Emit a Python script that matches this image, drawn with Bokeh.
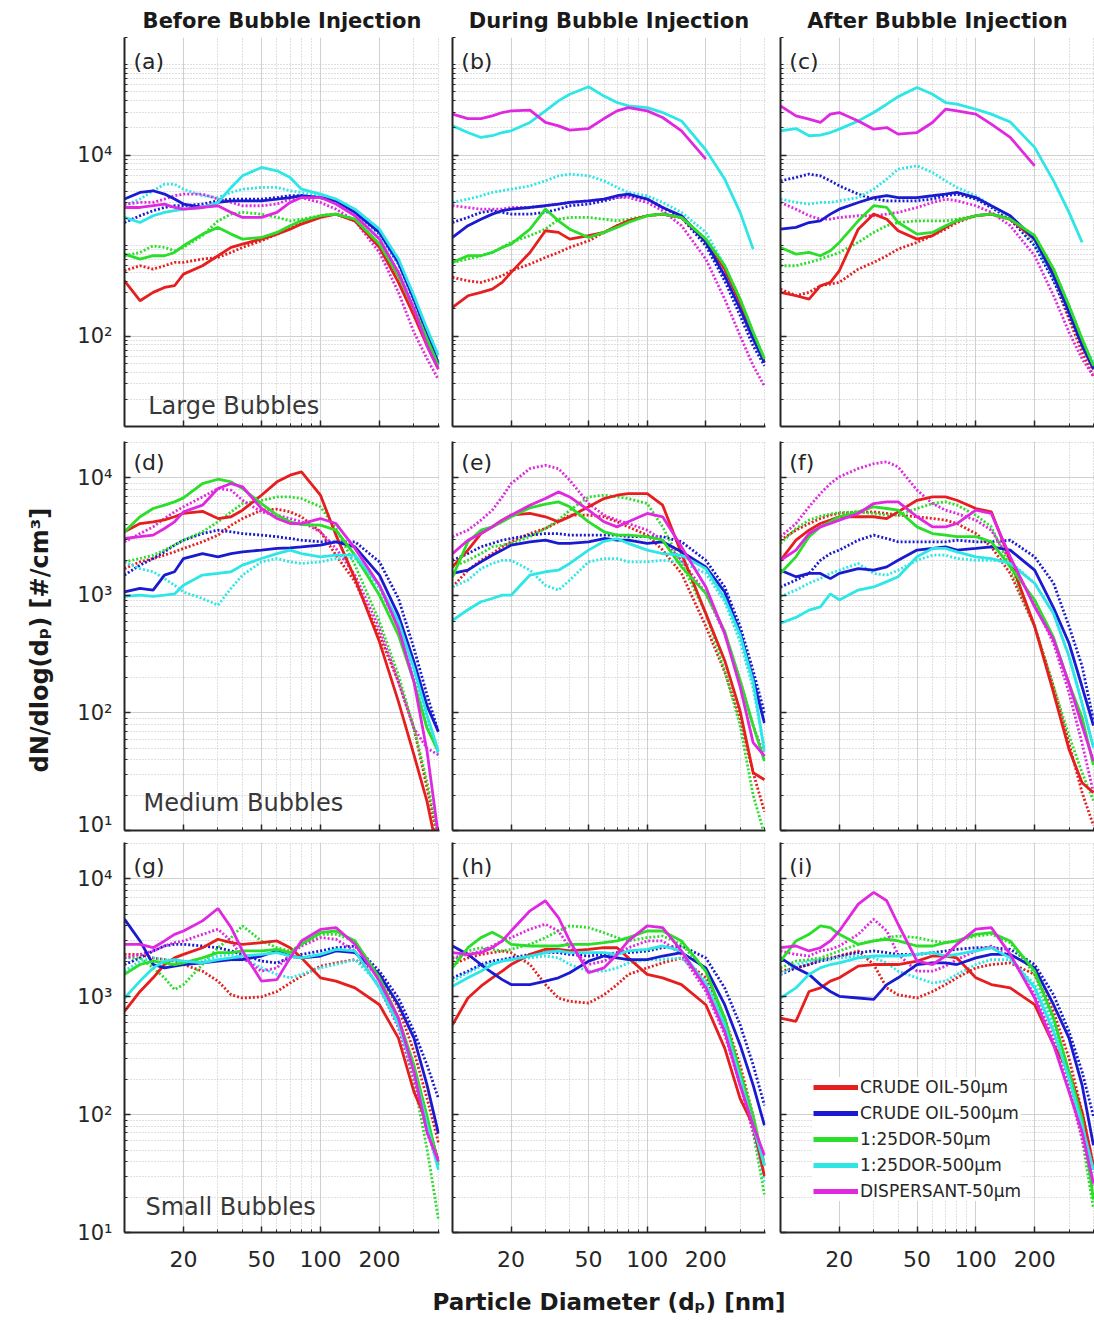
import numpy as np
from bokeh.plotting import figure
from bokeh.layouts import column, row
from bokeh.models import (FixedTicker, Label, Legend, LegendItem, Range1d,
                          CustomJSTickFormatter)
from bokeh.embed import file_html
from bokeh.resources import INLINE

# ---------------- data ----------------
DIAMETER_NM = [10, 12, 14, 16, 18, 20, 25, 30, 35, 40, 50, 60, 70, 80, 100, 120, 150, 200, 250, 300, 350, 400]

SERIES_NAMES = ["CRUDE OIL-50\u03bcm", "CRUDE OIL-500\u03bcm", "1:25DOR-50\u03bcm",
                "1:25DOR-500\u03bcm", "DISPERSANT-50\u03bcm"]
COL_TITLES = ["Before Bubble Injection", "During Bubble Injection", "After Bubble Injection"]
ROW_LABELS = ["Large Bubbles", "Medium Bubbles", "Small Bubbles"]
PANEL_TAGS = [["(a)", "(b)", "(c)"], ["(d)", "(e)", "(f)"], ["(g)", "(h)", "(i)"]]
X_TICKS = [20, 50, 100, 200]
Y_TITLE = "dN/dlog(d\u209a)  [#/cm\u00b3]"
X_TITLE = "Particle Diameter (d\u209a) [nm]"

# (a) large bubbles, before
a_crude50 = [408, 246, 304, 345, 360, 484, 599, 773, 955, 1040, 1180, 1340, 1520, 1730, 2050, 2230, 1880, 955, 392, 168, 78, 43]
a_crude50_dot = [527, 599, 550, 599, 652, 652, 710, 740, 840, 955, 1130, 1340, 1590, 1780, 2140, 2230, 1880, 995, 464, 199, 93, 47]
a_crude500 = [3270, 3870, 4040, 3710, 3270, 2880, 2640, 3000, 3130, 3130, 3130, 3270, 3400, 3560, 3400, 3130, 2330, 1400, 652, 256, 110, 49]
a_crude500_dot = [1800, 2140, 2430, 2640, 2760, 2760, 2880, 3130, 3270, 3270, 3270, 3400, 3560, 3560, 3400, 3130, 2330, 1340, 625, 246, 105, 47]
a_dor50 = [805, 710, 773, 773, 840, 995, 1340, 1590, 1340, 1180, 1230, 1400, 1660, 1880, 2140, 2230, 1960, 1040, 464, 199, 93, 47]
a_dor50_dot = [773, 840, 995, 955, 877, 955, 1290, 1880, 2230, 2330, 2230, 2050, 1880, 1960, 2140, 2230, 1960, 1040, 464, 199, 93, 51]
a_dor500 = [2050, 1800, 2140, 2330, 2430, 2530, 2640, 3000, 4400, 5910, 7310, 6710, 5670, 4210, 3710, 3270, 2530, 1520, 710, 279, 120, 61]
a_dor500_dot = [2760, 3270, 4040, 4780, 4780, 4210, 3560, 3400, 3870, 4210, 4400, 4400, 4040, 3870, 3560, 3130, 2330, 1340, 625, 246, 110, 53]
a_disp50 = [2640, 2640, 2760, 2880, 2640, 2530, 2640, 2760, 2330, 2050, 2050, 2330, 3000, 3400, 3400, 2880, 2140, 1180, 506, 199, 78, 43]
a_disp50_dot = [2880, 3000, 3000, 3270, 3560, 3710, 3710, 3270, 3000, 2760, 2760, 2880, 3270, 3400, 3000, 2530, 1880, 840, 304, 110, 56, 33]

# (b) large bubbles, during
b_crude50 = [208, 279, 304, 330, 392, 506, 840, 1460, 1400, 1180, 1290, 1400, 1660, 1880, 2140, 2230, 2050, 1130, 550, 236, 101, 51]
b_crude50_dot = [445, 408, 392, 427, 464, 527, 625, 740, 840, 955, 1130, 1400, 1660, 1880, 2140, 2230, 2050, 1130, 550, 236, 101, 51]
b_crude500 = [1230, 1660, 1960, 2230, 2430, 2530, 2640, 2760, 2880, 3000, 3130, 3270, 3560, 3710, 3270, 2640, 2140, 1085, 464, 199, 93, 51]
b_crude500_dot = [1800, 2050, 2330, 2430, 2330, 2230, 2230, 2330, 2530, 2760, 2880, 3130, 3400, 3560, 3270, 2640, 2050, 995, 408, 168, 78, 47]
b_dor50 = [652, 773, 773, 840, 955, 1040, 1520, 2530, 1880, 1520, 1230, 1400, 1590, 1800, 2140, 2230, 2050, 1180, 599, 256, 110, 56]
b_dor50_dot = [652, 710, 773, 840, 955, 1085, 1290, 1520, 1960, 2050, 2050, 1960, 1880, 1960, 2140, 2230, 2050, 1180, 599, 256, 110, 56]
b_dor500 = [21100, 17800, 15700, 16400, 17800, 18600, 23000, 30900, 39800, 47200, 57000, 45000, 38200, 35100, 33600, 29600, 23900, 11400, 5440, 2330, 915, None]
b_dor500_dot = [3000, 3270, 3560, 3870, 4040, 4210, 4580, 5200, 5910, 6170, 5910, 5200, 4400, 3870, 3560, 3000, 2330, 1400, 599, 236, 101, 56]
b_disp50 = [28400, 25400, 25400, 27200, 29600, 30900, 31500, 23000, 21100, 18900, 19700, 25400, 30900, 33600, 30900, 26100, 18600, 9030, None, None, None, None]
b_disp50_dot = [2760, 2640, 2530, 2530, 2530, 2640, 2640, 2760, 2880, 3000, 3130, 3270, 3400, 3400, 3000, 2430, 1660, 710, 256, 101, 47, 28]

# (c) large bubbles, after
c_crude50 = [304, 279, 256, 360, 392, 527, 1520, 2230, 1960, 1460, 1180, 1290, 1590, 1880, 2140, 2230, 1960, 1180, 506, 199, 85, 43]
c_crude50_dot = [330, 279, 304, 360, 376, 392, 550, 652, 773, 915, 1085, 1290, 1520, 1800, 2140, 2230, 1960, 1085, 427, 154, 66, 36]
c_crude500 = [1520, 1590, 1800, 1880, 2230, 2530, 3000, 3400, 3560, 3400, 3400, 3560, 3710, 3870, 3400, 2760, 2140, 1180, 464, 183, 78, 43]
c_crude500_dot = [5200, 5670, 6170, 5910, 5200, 4580, 3710, 3270, 3130, 3130, 3130, 3270, 3560, 3710, 3270, 2640, 1960, 995, 408, 168, 78, 47]
c_dor50 = [955, 805, 840, 773, 877, 1085, 1880, 2760, 2640, 1800, 1340, 1400, 1660, 1880, 2140, 2230, 1960, 1290, 550, 216, 93, 47]
c_dor50_dot = [599, 599, 652, 710, 773, 840, 1085, 1400, 1660, 1800, 1880, 1880, 1880, 1960, 2140, 2230, 1960, 1290, 550, 216, 93, 47]
c_dor500 = [18600, 19700, 16400, 16700, 17800, 19400, 23900, 29600, 36600, 44400, 56000, 47200, 38200, 36600, 32200, 28400, 23300, 12200, 5200, 2330, 1085, None]
c_dor500_dot = [3270, 3000, 2880, 3000, 3000, 3130, 3400, 4210, 5440, 7000, 7630, 6430, 5200, 4400, 3560, 2760, 2050, 1085, 445, 183, 85, 51]
c_disp50 = [35100, 27200, 25000, 23000, 28400, 29600, 23900, 19400, 20200, 17100, 17800, 23000, 32200, 30900, 28400, 22000, 15700, 7630, None, None, None, None]
c_disp50_dot = [3000, 2530, 2140, 1960, 1960, 2050, 2140, 2140, 2230, 2330, 2640, 3000, 3270, 3130, 2760, 2330, 1660, 773, 279, 110, 56, 36]

# (d) medium bubbles, before
d_crude50 = [3480, 4090, 4230, 4400, 4670, 5000, 5200, 4510, 4670, 5310, 7120, 9250, 10540, 11250, 7120, 3260, 1390, 403, 125, 44, 17.6, 6]
d_crude50_dot = [1690, 1930, 2060, 2200, 2350, 2510, 2860, 3260, 3960, 4510, 5310, 5420, 5140, 4670, 3480, 2200, 1310, 460, 184, 74, 23, 8]
d_crude500 = [1070, 1150, 1110, 1490, 1590, 2060, 2270, 2130, 2270, 2350, 2430, 2510, 2540, 2590, 2680, 2860, 2590, 1490, 680, 273, 115, 69]
d_crude500_dot = [1490, 1810, 2060, 2350, 2680, 2950, 3360, 3590, 3480, 3360, 3260, 3160, 3050, 2950, 2860, 2860, 2860, 1930, 942, 354, 142, 69]
d_dor50 = [3480, 4670, 5490, 5860, 6250, 6760, 8950, 9740, 9250, 8120, 6050, 4820, 4230, 4010, 3960, 3590, 2200, 1005, 460, 184, 74, 47]
d_dor50_dot = [1930, 2060, 2200, 2430, 2680, 2950, 3480, 4230, 5140, 6050, 6420, 6890, 6890, 6670, 5680, 3710, 1810, 597, 210, 74, 26, 8.6]
d_dor500 = [980, 1005, 980, 1005, 1030, 1220, 1490, 1540, 1590, 1810, 2060, 2270, 2430, 2270, 2130, 2200, 2200, 1220, 597, 239, 96, 47]
d_dor500_dot = [1930, 1690, 1590, 1390, 1220, 1070, 942, 827, 1150, 1490, 1930, 2060, 1930, 1870, 1930, 2060, 2060, 1150, 524, 210, 84, 44]
d_disp50 = [3050, 3160, 3260, 3710, 4230, 5140, 5860, 8120, 8950, 8400, 5490, 4510, 4090, 4090, 4510, 4090, 2510, 1220, 524, 184, 47, 9]
d_disp50_dot = [2860, 3360, 3830, 4510, 5140, 5680, 6890, 8120, 7860, 6450, 5140, 4820, 4510, 4230, 3480, 2510, 1490, 524, 184, 74, 50, 44]

# (e) medium bubbles, during
e_crude50 = [1750, 2430, 3360, 3830, 4370, 4820, 4980, 4670, 4230, 4670, 5680, 6670, 7120, 7360, 7360, 5860, 2270, 700, 280, 104, 31, 27]
e_crude50_dot = [1180, 1640, 1990, 2270, 2590, 2860, 3360, 3710, 4230, 4820, 4820, 4670, 4230, 3830, 3260, 2430, 1540, 546, 224, 89, 31, 14.5]
e_crude500 = [1540, 1640, 1930, 2200, 2430, 2680, 2860, 2950, 2770, 2770, 2860, 3050, 2950, 2950, 2770, 2860, 2350, 1750, 1070, 480, 195, 82]
e_crude500_dot = [1990, 2270, 2590, 2770, 2950, 3050, 3260, 3360, 3360, 3260, 3260, 3260, 3260, 3160, 3160, 3160, 2860, 1990, 1180, 546, 229, 100]
e_dor50 = [1440, 2860, 3590, 3830, 4230, 4670, 5570, 5970, 6250, 5680, 4230, 3480, 3260, 3260, 3160, 2950, 1750, 1040, 495, 189, 78, 39]
e_dor50_dot = [1750, 1990, 2270, 2590, 2680, 2770, 3160, 3710, 4370, 5310, 6890, 7120, 6890, 6670, 6050, 3830, 1870, 700, 229, 78, 20, 9.3]
e_dor500 = [615, 755, 883, 942, 1005, 1005, 1490, 1590, 1640, 1870, 2430, 2890, 3050, 2770, 2430, 2270, 2200, 1690, 942, 460, 184, 47]
e_dor500_dot = [1180, 1350, 1690, 1870, 1990, 1990, 1640, 1220, 1110, 1350, 1930, 2060, 2060, 1930, 1930, 1990, 1930, 1540, 883, 403, 162, 50]
e_disp50 = [2270, 2950, 3360, 3830, 4370, 4820, 5860, 6670, 7600, 6890, 5310, 4230, 3830, 4230, 4980, 4670, 2590, 1180, 473, 167, 56, 43]
e_disp50_dot = [3160, 3590, 4370, 5310, 6890, 8950, 12000, 12800, 12000, 9560, 6050, 4820, 4370, 4090, 3590, 2950, 1990, 1040, 473, 189, 78, 43]

# (f) medium bubbles, after
f_crude50 = [1990, 2950, 3590, 4090, 4370, 4670, 4670, 4670, 4510, 5140, 6450, 6890, 6890, 6450, 5490, 5140, 1990, 546, 148, 49, 25.5, 21]
f_crude50_dot = [2950, 3590, 4090, 4510, 4820, 4980, 5140, 5140, 4980, 4820, 4670, 4510, 4370, 4090, 3360, 2590, 1540, 546, 167, 55, 21, 11]
f_crude500 = [1640, 1440, 1540, 1540, 1390, 1540, 1690, 1640, 1750, 1990, 2430, 2510, 2590, 2430, 2510, 2590, 2430, 1640, 785, 392, 167, 78]
f_crude500_dot = [1180, 1350, 1540, 1990, 2270, 2430, 2950, 3260, 3050, 2860, 2860, 2860, 2860, 2950, 2860, 2860, 2950, 2130, 1270, 546, 250, 87]
f_dor50 = [1540, 2130, 3160, 3830, 4230, 4670, 5140, 5680, 5490, 5310, 3830, 3360, 3260, 3160, 3160, 2860, 1750, 915, 440, 177, 91, 36]
f_dor50_dot = [2770, 3710, 4370, 4720, 4920, 5070, 5140, 4980, 4820, 4820, 5490, 6050, 6250, 5860, 4820, 3830, 1750, 546, 167, 64, 31, 18]
f_dor500 = [580, 650, 750, 800, 1030, 915, 1110, 1180, 1310, 1440, 2130, 2510, 2510, 2350, 2130, 2060, 1870, 1270, 700, 303, 120, 51]
f_dor500_dot = [980, 1110, 1270, 1390, 1540, 1640, 1870, 1540, 1490, 1640, 1990, 2200, 2200, 2060, 1990, 1990, 1930, 1270, 700, 303, 120, 51]
f_disp50 = [1990, 2430, 3360, 3830, 4090, 4370, 4980, 6050, 6250, 6250, 4670, 3830, 3830, 4090, 5310, 4980, 2130, 800, 420, 177, 78, 39]
f_disp50_dot = [3160, 4090, 5680, 7360, 8950, 10200, 12000, 13200, 13700, 12400, 7860, 6050, 5310, 4980, 4370, 3590, 1990, 850, 390, 148, 55, 21]

# (g) small bubbles, before
g_crude50 = [752, 1110, 1450, 1880, 2140, 2290, 2610, 3080, 2880, 2790, 2880, 2980, 2610, 2140, 1450, 1360, 1190, 857, 446, 156, 86, 40]
g_crude50_dot = [2290, 2290, 2140, 2070, 2010, 1880, 1650, 1360, 1040, 977, 1000, 1110, 1310, 1500, 1820, 1940, 2070, 1550, 803, 343, 137, 58]
g_crude500 = [4560, 2980, 1880, 1760, 1820, 1880, 1940, 2010, 2070, 2070, 2220, 2450, 2220, 2140, 2220, 2450, 2370, 1550, 857, 446, 178, 69]
g_crude500_dot = [1880, 2140, 2450, 2700, 2790, 2790, 2700, 2610, 2450, 2290, 2010, 1940, 2140, 2290, 2450, 2610, 2700, 1650, 977, 508, 264, 137]
g_dor50 = [1550, 1880, 2010, 1940, 1880, 1940, 2140, 2370, 2370, 2450, 2450, 2530, 2370, 2790, 3500, 3620, 2980, 1450, 660, 264, 97, 37]
g_dor50_dot = [2140, 2140, 1760, 1450, 1150, 1270, 1880, 2610, 3180, 4000, 2980, 2610, 2450, 2790, 3390, 3390, 2980, 1360, 579, 190, 51, 13]
g_dor500 = [977, 1360, 1760, 2010, 2070, 2010, 1940, 2070, 2140, 2220, 2290, 2370, 2220, 2140, 2290, 2530, 2450, 1190, 579, 231, 81, 34]
g_dor500_dot = [1650, 2010, 2140, 2070, 2010, 1940, 2010, 2220, 2290, 2140, 1760, 1550, 1450, 1550, 1760, 1880, 2070, 1270, 620, 245, 92, 40]
g_disp50 = [2790, 2790, 2610, 2980, 3390, 3620, 4410, 5620, 3870, 2450, 1360, 1400, 2140, 2980, 3730, 3870, 2790, 1360, 660, 231, 71, 40]
g_disp50_dot = [2140, 2290, 2450, 2700, 2880, 2980, 3390, 3750, 2980, 2140, 1650, 1760, 2290, 2700, 3180, 3080, 2450, 1190, 545, 203, 71, 37]

# (h) small bubbles, during
h_crude50 = [579, 977, 1230, 1450, 1650, 1880, 2290, 2530, 2530, 2450, 2530, 2610, 2610, 2140, 1550, 1450, 1270, 857, 367, 137, 81, 30]
h_crude50_dot = [1880, 2140, 2290, 2370, 2450, 2370, 1880, 1270, 977, 915, 885, 1040, 1270, 1550, 1760, 1940, 2140, 1450, 660, 264, 97, 37]
h_crude500 = [2700, 2290, 1880, 1600, 1400, 1270, 1270, 1360, 1450, 1600, 2010, 2220, 2140, 2070, 2070, 2220, 2370, 1760, 857, 391, 178, 81]
h_crude500_dot = [1450, 1650, 1880, 2010, 2070, 2140, 2290, 2370, 2370, 2290, 2220, 2290, 2370, 2370, 2450, 2610, 2700, 2140, 1190, 579, 264, 120]
h_dor50 = [1760, 2610, 3180, 3530, 3180, 2790, 2700, 2700, 2700, 2790, 2790, 2880, 2980, 3180, 3620, 3620, 2980, 1650, 660, 231, 97, 37]
h_dor50_dot = [2010, 2450, 2610, 2530, 2450, 2530, 2790, 3180, 3620, 4000, 3870, 3500, 3180, 2980, 3180, 3280, 2790, 1650, 620, 203, 71, 21]
h_dor500 = [1230, 1450, 1650, 1880, 2010, 2070, 2220, 2370, 2450, 2370, 2370, 2370, 2290, 2450, 2530, 2700, 2450, 1270, 579, 203, 81, 37]
h_dor500_dot = [1360, 1600, 1820, 1940, 2010, 2070, 2140, 2220, 2140, 1880, 1650, 1650, 1760, 1940, 2070, 2070, 2140, 1360, 620, 217, 76, 27]
h_disp50 = [2370, 2290, 2370, 2610, 2980, 3620, 5370, 6530, 4710, 2980, 1600, 1760, 2290, 2980, 4000, 3870, 2450, 1190, 508, 178, 81, 45]
h_disp50_dot = [2140, 2290, 2450, 2700, 2980, 3180, 3750, 4130, 3620, 2610, 1880, 2010, 2290, 2610, 2980, 2980, 2290, 1110, 477, 178, 71, 37]

# (i) small bubbles, after
i_crude50 = [660, 620, 1110, 1190, 1360, 1450, 1820, 1880, 1880, 1880, 2010, 2220, 2220, 2140, 1450, 1270, 1190, 857, 391, 231, 105, 37]
i_crude50_dot = [1650, 1760, 1880, 2070, 2140, 2220, 2450, 1880, 1190, 1040, 977, 1110, 1270, 1450, 1760, 1880, 1940, 1550, 752, 301, 105, 37]
i_crude500 = [2140, 1760, 1550, 1270, 1110, 1010, 977, 950, 1270, 1450, 1880, 1940, 1940, 1880, 2140, 2290, 2290, 1760, 857, 446, 178, 55]
i_crude500_dot = [1550, 1760, 1880, 2010, 2090, 2220, 2370, 2450, 2370, 2290, 2290, 2370, 2450, 2530, 2610, 2610, 2530, 1880, 1040, 508, 231, 97]
i_dor50 = [2010, 2980, 3390, 4000, 3870, 3390, 2790, 2980, 3080, 2980, 2700, 2700, 2880, 2980, 3390, 3500, 2980, 1650, 660, 231, 92, 19]
i_dor50_dot = [1760, 2010, 2070, 2140, 2290, 2450, 2790, 2980, 3180, 3280, 3180, 2980, 2880, 2980, 3280, 3390, 2880, 1550, 579, 190, 62, 16]
i_dor500 = [977, 1190, 1550, 1760, 1880, 1940, 2140, 2220, 2220, 2220, 2290, 2370, 2220, 2290, 2450, 2610, 2140, 1190, 508, 203, 81, 34]
i_dor500_dot = [1550, 1880, 2010, 2070, 2090, 2140, 2220, 2140, 1940, 1650, 1450, 1310, 1360, 1550, 1880, 2070, 2070, 1270, 579, 231, 86, 32]
i_disp50 = [2610, 2700, 2450, 2610, 2980, 3620, 6120, 7700, 6530, 4130, 2010, 1880, 2220, 2790, 3750, 3870, 2290, 977, 391, 156, 71, 26]
i_disp50_dot = [2450, 2290, 2220, 2450, 2530, 2700, 3390, 4560, 3620, 2290, 1650, 1650, 1820, 2070, 2450, 2700, 2220, 1040, 446, 167, 62, 25]

PANELS = [
    [([a_crude50, a_crude500, a_dor50, a_dor500, a_disp50],
      [a_crude50_dot, a_crude500_dot, a_dor50_dot, a_dor500_dot, a_disp50_dot]),
     ([b_crude50, b_crude500, b_dor50, b_dor500, b_disp50],
      [b_crude50_dot, b_crude500_dot, b_dor50_dot, b_dor500_dot, b_disp50_dot]),
     ([c_crude50, c_crude500, c_dor50, c_dor500, c_disp50],
      [c_crude50_dot, c_crude500_dot, c_dor50_dot, c_dor500_dot, c_disp50_dot])],
    [([d_crude50, d_crude500, d_dor50, d_dor500, d_disp50],
      [d_crude50_dot, d_crude500_dot, d_dor50_dot, d_dor500_dot, d_disp50_dot]),
     ([e_crude50, e_crude500, e_dor50, e_dor500, e_disp50],
      [e_crude50_dot, e_crude500_dot, e_dor50_dot, e_dor500_dot, e_disp50_dot]),
     ([f_crude50, f_crude500, f_dor50, f_dor500, f_disp50],
      [f_crude50_dot, f_crude500_dot, f_dor50_dot, f_dor500_dot, f_disp50_dot])],
    [([g_crude50, g_crude500, g_dor50, g_dor500, g_disp50],
      [g_crude50_dot, g_crude500_dot, g_dor50_dot, g_dor500_dot, g_disp50_dot]),
     ([h_crude50, h_crude500, h_dor50, h_dor500, h_disp50],
      [h_crude50_dot, h_crude500_dot, h_dor50_dot, h_dor500_dot, h_disp50_dot]),
     ([i_crude50, i_crude500, i_dor50, i_dor500, i_disp50],
      [i_crude50_dot, i_crude500_dot, i_dor50_dot, i_dor500_dot, i_disp50_dot])],
]

# ---------------- style / layout ----------------
FONT = "DejaVu Sans"
TXT = "#262626"
COLORS = ["#e61e1e", "#1a1ad0", "#2ade2a", "#2ee6e6", "#e028e0"]

FRAME_W = [315, 313, 314]
BORDER_L = [124, 6, 8]
BORDER_R = [7, 7, 0]
FRAME_H = [389, 389, 390]
BORDER_T = [37, 8, 6]
BORDER_B = [7, 6, 48]
Y_RANGES = [(10, 2e5), (10, 2.04e4), (10, 2.04e4)]
Y_MAJOR = [[100, 10000], [10, 100, 1000, 10000], [10, 100, 1000, 10000]]
SUP = {10: "10\u00b9", 100: "10\u00b2", 1000: "10\u00b3", 10000: "10\u2074"}
TAG_Y = [1.5e5, 17400, 16400]
ROWLAB_X = [13.2, 12.5, 12.8]
ROWLAB_Y = [17.0, 17.0, 16.3]

blank = CustomJSTickFormatter(code="return ''")


def minor_list(majors, top):
    out = []
    for dec in [10, 100, 1000, 10000, 100000]:
        for m in range(1, 10):
            v = m * dec
            if v <= top * 1.0001 and v not in majors:
                out.append(v)
    return out


def make_panel(r, c):
    ymin, ymax = Y_RANGES[r]
    p = figure(x_axis_type="log", y_axis_type="log",
               x_range=Range1d(10, 405), y_range=Range1d(ymin, ymax),
               frame_width=FRAME_W[c], frame_height=FRAME_H[r],
               min_border_left=BORDER_L[c], min_border_right=BORDER_R[c],
               min_border_top=BORDER_T[r], min_border_bottom=BORDER_B[r],
               output_backend="svg", toolbar_location=None,
               title=COL_TITLES[c] if r == 0 else None)
    p.outline_line_color = None
    p.background_fill_color = "white"
    p.border_fill_color = "white"
    if r == 0:
        p.title.text_font = FONT
        p.title.text_font_size = "21px"
        p.title.text_font_style = "bold"
        p.title.text_color = "#1a1a1a"
        p.title.align = "center"
        p.title.standoff = 9

    xt = FixedTicker(ticks=X_TICKS, minor_ticks=[30, 40, 60, 70, 80, 90, 300, 400])
    yt = FixedTicker(ticks=Y_MAJOR[r], minor_ticks=minor_list(Y_MAJOR[r], ymax))
    p.xaxis.ticker = xt
    p.xgrid.ticker = xt
    p.yaxis.ticker = yt
    p.ygrid.ticker = yt

    for g in (p.xgrid, p.ygrid):
        g.grid_line_color = "#d0d0d0"
        g.grid_line_width = 1
        g.minor_grid_line_color = "#c0c0c0"
        g.minor_grid_line_dash = "1 2"
        g.minor_grid_line_width = 1

    for ax in (p.xaxis, p.yaxis):
        ax.axis_line_color = TXT
        ax.axis_line_width = 2
        ax.major_tick_in = 6
        ax.major_tick_out = 0
        ax.minor_tick_in = 3
        ax.minor_tick_out = 0
        ax.major_tick_line_color = TXT
        ax.minor_tick_line_color = TXT
        ax.major_tick_line_width = 1.5
        ax.minor_tick_line_width = 1

    if c == 0:
        p.yaxis.major_label_overrides = {v: SUP[v] for v in Y_MAJOR[r]}
        p.yaxis.major_label_text_font = FONT
        p.yaxis.major_label_text_font_size = "21px"
        p.yaxis.major_label_text_color = TXT
        p.yaxis.major_label_standoff = 12
    else:
        p.yaxis.formatter = blank
        p.yaxis.major_label_text_font_size = "1px"
        p.yaxis.major_label_standoff = 0

    if r == 2:
        p.xaxis.major_label_overrides = {v: str(v) for v in X_TICKS}
        p.xaxis.major_label_text_font = FONT
        p.xaxis.major_label_text_font_size = "22px"
        p.xaxis.major_label_text_color = TXT
        p.xaxis.major_label_standoff = 18
    else:
        p.xaxis.formatter = blank
        p.xaxis.major_label_text_font_size = "1px"
        p.xaxis.major_label_standoff = 0

    solids, dots = PANELS[r][c]
    for k in range(5):
        p.line(DIAMETER_NM, np.array(dots[k], dtype=float), line_color=COLORS[k],
               line_width=2.8, line_dash="2 2")
    for k in range(5):
        p.line(DIAMETER_NM, np.array(solids[k], dtype=float), line_color=COLORS[k],
               line_width=2.8)

    p.add_layout(Label(x=11.1, y=TAG_Y[r], text=PANEL_TAGS[r][c], text_font=FONT,
                       text_font_size="22px", text_color=TXT, text_baseline="top"))
    if c == 0:
        p.add_layout(Label(x=ROWLAB_X[r], y=ROWLAB_Y[r], text=ROW_LABELS[r], text_font=FONT,
                           text_font_size="24px", text_color="#383838",
                           text_baseline="alphabetic"))
    return p


figs = [[make_panel(r, c) for c in range(3)] for r in range(3)]

# y axis title on the middle-left panel
fd = figs[1][0]
fd.yaxis.axis_label = Y_TITLE
fd.yaxis.axis_label_text_font = FONT
fd.yaxis.axis_label_text_font_size = "24px"
fd.yaxis.axis_label_text_font_style = "bold"
fd.yaxis.axis_label_text_color = "#1a1a1a"
fd.yaxis.axis_label_standoff = 20

# legend in panel (i)
fi = figs[2][2]
items = []
for k in range(5):
    swatch = fi.line(x=[np.nan, np.nan], y=[np.nan, np.nan], line_color=COLORS[k], line_width=5)
    items.append(LegendItem(label=SERIES_NAMES[k], renderers=[swatch]))
legend = Legend(items=items, location=(33, 31), label_text_font=FONT,
                label_text_font_size="17px", label_text_color=TXT,
                glyph_width=45, glyph_height=20, label_height=20, label_standoff=2,
                spacing=6, padding=0, margin=0, border_line_color=None,
                background_fill_color="white", background_fill_alpha=1.0)
fi.add_layout(legend)

# x axis title strip spanning the full width
TOTAL_W = sum(BORDER_L) + sum(FRAME_W) + sum(BORDER_R)
xt_fig = figure(width=TOTAL_W, height=42, x_range=Range1d(0, TOTAL_W), y_range=Range1d(0, 42),
                min_border=0, output_backend="svg", toolbar_location=None)
xt_fig.axis.visible = False
xt_fig.grid.visible = False
xt_fig.outline_line_color = None
xt_fig.border_fill_color = "white"
xt_center = BORDER_L[0] + FRAME_W[0] + BORDER_R[0] + BORDER_L[1] + FRAME_W[1] / 2
xt_fig.add_layout(Label(x=xt_center, y=21, text=X_TITLE, text_font=FONT,
                        text_font_size="23px", text_font_style="bold",
                        text_color="#1a1a1a", text_align="center",
                        text_baseline="alphabetic"))

layout = column(*[row(*fr) for fr in figs], xt_fig)
open("out.html", "w").write(file_html(layout, INLINE))
